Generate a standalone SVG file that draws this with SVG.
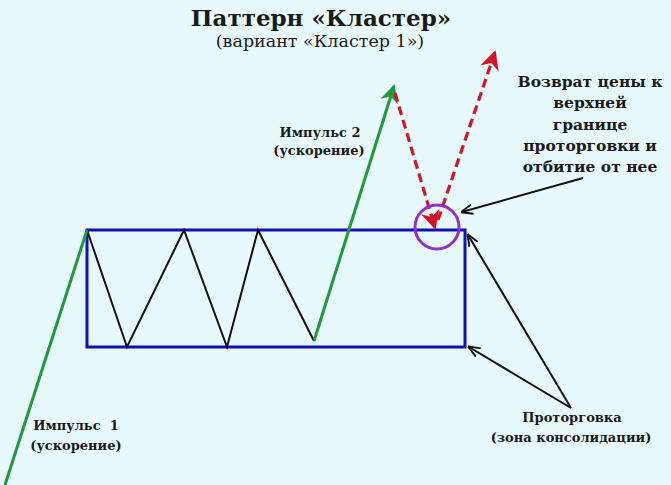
<svg xmlns="http://www.w3.org/2000/svg" width="671" height="485" viewBox="0 0 671 485">
<defs>
<style>
.t{font-family:"DejaVu Serif","Liberation Serif",serif;fill:#1a1a1a;text-anchor:middle}
.b{font-weight:bold}
.lbl{font-size:13px;font-weight:bold}
.big{font-size:15.5px;font-weight:bold}
.grn{stroke:#1e9a3c;stroke-width:3;fill:none}
.red{stroke:#d2142a;stroke-width:3.2;fill:none;stroke-dasharray:9 5}
.blk{stroke:#111;stroke-width:2;fill:none}
</style>
<marker id="ag" viewBox="0 0 10 10" refX="9" refY="5" markerWidth="6" markerHeight="6" orient="auto" markerUnits="strokeWidth"><path d="M0,0 L10,5 L0,10 L3,5 z" fill="#1e9a3c"/></marker>
<marker id="ar" viewBox="0 0 10 10" refX="9" refY="5" markerWidth="6" markerHeight="6" orient="auto" markerUnits="strokeWidth"><path d="M0,0 L10,5 L0,10 L3,5 z" fill="#d2142a"/></marker>
<marker id="ab" viewBox="0 0 10 10" refX="9" refY="5" markerWidth="6" markerHeight="6" orient="auto" markerUnits="strokeWidth"><path d="M0,1 L10,5 L0,9" fill="none" stroke="#111" stroke-width="1.6"/></marker>
</defs>
<rect width="671" height="485" fill="#e8f9fb"/>
<g id="title">
<text class="t b" x="321" y="26" font-size="23">Паттерн «Кластер»</text>
<text class="t" x="320" y="47" font-size="17.5">(вариант «Кластер 1»)</text>
</g>
<g id="consolidation">
<rect x="87" y="230" width="378" height="117" fill="none" stroke="#1010b4" stroke-width="3"/>
</g>
<g id="zigzag">
<polyline class="blk" points="87,230 127,347 184,230 227,347 258,230 314,341"/>
</g>
<g id="connectors">
<line class="grn" x1="5" y1="485" x2="87" y2="230"/>
<line class="grn" x1="314" y1="341" x2="394" y2="86" marker-end="url(#ag)"/>
<line class="red" x1="395" y1="93" x2="435" y2="228" marker-end="url(#ar)"/>
<line class="red" x1="438" y1="220" x2="495" y2="52" marker-end="url(#ar)"/>
<line class="blk" x1="583" y1="178" x2="462" y2="212" marker-end="url(#ab)"/>
<line class="blk" x1="571" y1="408" x2="468" y2="235" marker-end="url(#ab)"/>
<line class="blk" x1="571" y1="408" x2="469" y2="347" marker-end="url(#ab)"/>
</g>
<g id="circle">
<circle cx="437" cy="227" r="22" fill="none" stroke="#9030d0" stroke-width="3"/>
</g>
<g id="impulse2">
<text class="t lbl" x="320" y="137">Импульс 2</text>
<text class="t lbl" x="319" y="155">(ускорение)</text>
</g>
<g id="impulse1">
<text class="t lbl" x="76" y="430" style="white-space:pre">Импульс  1</text>
<text class="t lbl" x="76" y="450">(ускорение)</text>
</g>
<g id="return">
<text class="t big" x="590" y="87">Возврат цены к</text>
<text class="t big" x="590" y="108">верхней</text>
<text class="t big" x="590" y="130">границе</text>
<text class="t big" x="590" y="151">проторговки и</text>
<text class="t big" x="590" y="172">отбитие от нее</text>
</g>
<g id="range">
<text class="t lbl" x="572" y="422">Проторговка</text>
<text class="t lbl" x="571" y="442">(зона консолидации)</text>
</g>
</svg>
